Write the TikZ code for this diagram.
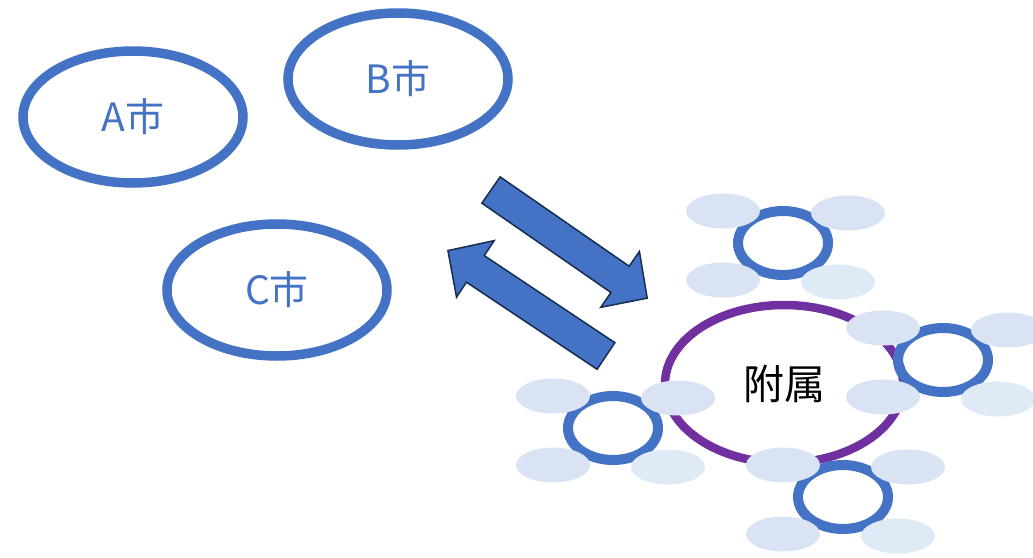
\documentclass[tikz,border=0pt]{standalone}
\usepackage{fontspec}
\newfontfamily\cjk{Noto Sans CJK JP}
\usepackage{tikz}
\usetikzlibrary{shapes.geometric}

\definecolor{cityblue}{HTML}{4472C4}
\definecolor{hubpurple}{HTML}{7030A0}
\definecolor{petalblue}{HTML}{DAE3F3}
\definecolor{petallight}{HTML}{DEEAF6}
\definecolor{arrowline}{HTML}{172C51}

\begin{document}
\begin{tikzpicture}[%
  x=1pt, y=-1pt,
  city/.style={ellipse, draw=cityblue, line width=9.5pt, inner sep=0pt,
    minimum width=220pt, minimum height=132pt, text=cityblue,
    font=\cjk\fontsize{39}{42}\selectfont},
  hub/.style={ellipse, draw=hubpurple, line width=8.5pt, inner sep=0pt,
    minimum width=238pt, minimum height=158pt, text=black,
    font=\cjk\fontsize{41}{44}\selectfont},
  ring/.style={ellipse, draw=cityblue, line width=10pt, inner sep=0pt,
    minimum width=90pt, minimum height=64pt},
  petal/.style={ellipse, fill=petalblue, inner sep=0pt,
    minimum width=74pt, minimum height=35pt},
  flow/.style={fill=cityblue, draw=arrowline, line width=1.5pt, line join=miter}
  ]
  \useasboundingbox (0,0) rectangle (1033,557);

  % Two block arrows: tail centre x / y / direction
  \foreach \tx / \ty / \dir in {491/190/-34.7, 606/356/146.3} {
    \begin{scope}[shift={(\tx,\ty)}, rotate=\dir]
      \draw[flow] (0,16) -- (157,16) -- (157,34) -- (190,0)
        -- (157,-34) -- (157,-16) -- (0,-16) -- cycle;
    \end{scope}
  }

  % The three cities
  \node[city] (A) at (133,117) {A市};
  \node[city] (B) at (398,79) {B市};
  \node[city] (C) at (277,290) {C市};

  % Attached unit in the middle of its satellites
  \node[hub] (F) at (784,384) {附属};

  % Satellites: a ring with four petals each
  \foreach \name / \x / \y in {S1/783/243, S2/613/428, S3/943/360, S4/843/497} {
    \node[ring] (\name) at (\x,\y) {};
    \node[petal] (\name-tl) at (\x-60,\y-32) {};
    \node[petal] (\name-tr) at (\x+65,\y-30) {};
    \node[petal] (\name-bl) at (\x-60,\y+37) {};
    \node[petal, fill=petallight] (\name-br) at (\x+55,\y+39) {};
  }
\end{tikzpicture}
\end{document}
